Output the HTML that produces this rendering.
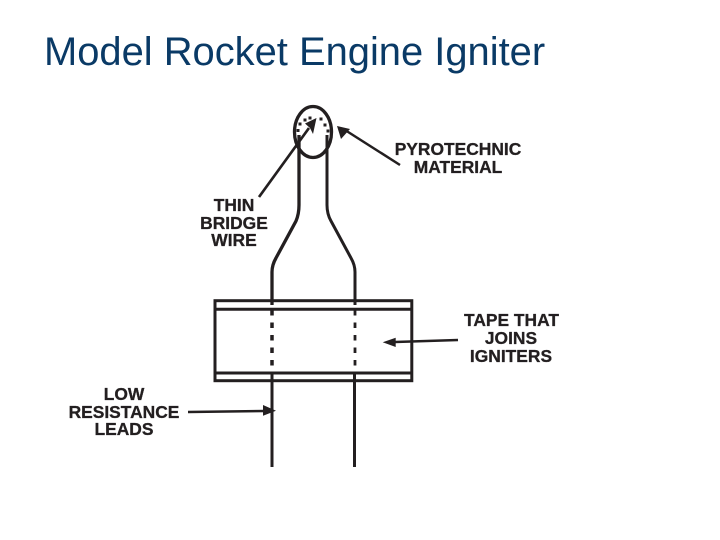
<!DOCTYPE html>
<html>
<head>
<meta charset="utf-8">
<style>
html,body{margin:0;padding:0;background:#fff;}
body{width:720px;height:540px;overflow:hidden;position:relative;}
svg{position:absolute;left:0;top:0;}
</style>
</head>
<body>
<svg width="720" height="540" viewBox="0 0 720 540" xmlns="http://www.w3.org/2000/svg">
<text x="44" y="65" font-family="Liberation Sans, sans-serif" font-size="39.900" fill="#0a3a66">Model Rocket Engine Igniter</text>
<g fill="none" stroke="#231f20">
<ellipse cx="313" cy="132" rx="18.500" ry="25.500" stroke-width="3.300"/>
<path d="M299 135V205Q299 214 296 221L276 258Q272 265 272 272V305" stroke-width="3.300"/>
<path d="M327 135V205Q327 214 331 221L351 258Q355 265 355 272V305" stroke-width="3"/>
<rect x="215" y="300.700" width="196.800" height="80" stroke-width="3"/>
<path d="M215 309.300H411.800M215 373H411.800" stroke-width="3"/>
<path d="M272 310V365.500" stroke-width="3.500" stroke-dasharray="5.500 7"/>
<path d="M355 310V365.500" stroke-width="2.800" stroke-dasharray="5.500 7"/>
<path d="M272 374V467M354.500 374V467" stroke-width="3"/>
<path d="M259 197L309 128" stroke-width="2.700"/>
<path d="M400 165L345 130" stroke-width="2.500"/>
<path d="M458 340L395 342" stroke-width="2.500"/>
<path d="M188 412L265 411" stroke-width="2.500"/>
</g>
<g fill="#231f20">
<rect x="296.500" y="129" width="3" height="3"/>
<rect x="298.500" y="122.500" width="3" height="3"/>
<rect x="303.500" y="118.500" width="3" height="3"/>
<rect x="308.500" y="116.500" width="3" height="3"/>
<rect x="319.500" y="117.500" width="3" height="3"/>
<rect x="323.500" y="123.500" width="3" height="3"/>
<rect x="326.500" y="129.500" width="3" height="3"/>
<polygon points="316.500,118 305,123.500 310,128 313,134"/>
<polygon points="337,126 350,129 341,139"/>
<polygon points="382.700,342.300 395.700,337.700 395.700,347"/>
<polygon points="276,410.700 263,405 263,415.700"/>
</g>
<g font-family="Liberation Sans, sans-serif" font-size="17.400" font-weight="bold" fill="#231f20" text-anchor="middle" stroke="#231f20" stroke-width="0.300">
<text x="458" y="155">PYROTECHNIC</text>
<text x="458" y="173">MATERIAL</text>
<text x="234" y="211">THIN</text>
<text x="234" y="229">BRIDGE</text>
<text x="234" y="246">WIRE</text>
<text x="511.500" y="326">TAPE THAT</text>
<text x="511" y="344">JOINS</text>
<text x="511" y="362">IGNITERS</text>
<text x="124" y="400">LOW</text>
<text x="124" y="418">RESISTANCE</text>
<text x="124" y="435">LEADS</text>
</g>
</svg>
</body>
</html>
